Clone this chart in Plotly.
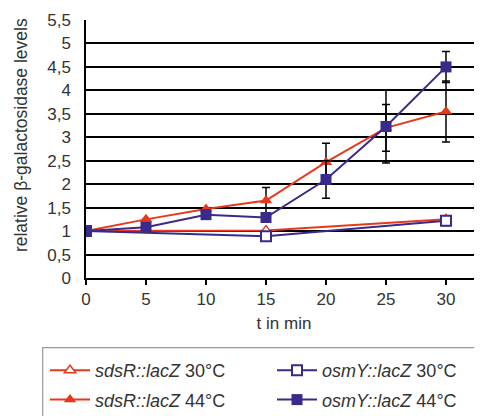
import plotly.graph_objects as go

t_min = [0, 5, 10, 15, 20, 25, 30]
t_sparse = [0, 15, 30]

sdsR_30 = [1.0, 1.01, 1.25]
osmY_30 = [1.0, 0.89, 1.22]
osmY_30_err = [0, 0, 0.1]

sdsR_44 = [1.0, 1.25, 1.47, 1.65, 2.47, 3.2, 3.55]
sdsR_44_err = [0, 0, 0, 0.28, 0.4, 0.5, 0.65]
osmY_44 = [1.0, 1.08, 1.35, 1.29, 2.1, 3.23, 4.5]
osmY_44_err = [0, 0, 0, 0.08, 0.4, 0.78, 0.33]

y_tickvals = [0, 0.5, 1, 1.5, 2, 2.5, 3, 3.5, 4, 4.5, 5, 5.5]
y_ticktext = ["0", "0,5", "1", "1,5", "2", "2,5", "3", "3,5", "4", "4,5", "5", "5,5"]
x_tickvals = [0, 5, 10, 15, 20, 25, 30]

RED = "#E8381C"
BLUE = "#3A2A8C"
FONT = "Liberation Sans, Arial, sans-serif"
TXT = "#333333"

fig = go.Figure()

err_style = dict(type="data", color="black", thickness=1.5, width=4)

fig.add_trace(go.Scatter(
    x=t_sparse, y=sdsR_30, mode="lines+markers",
    name="<i>sdsR::lacZ</i> 30°C", legend="legend", legendgroup="a",
    line=dict(color=RED, width=2),
    marker=dict(symbol="triangle-up", size=10, color="white", line=dict(color=RED, width=1.5)),
))
fig.add_trace(go.Scatter(
    x=t_min, y=sdsR_44, mode="lines+markers",
    name="<i>sdsR::lacZ</i> 44°C", legend="legend", legendgroup="b",
    line=dict(color=RED, width=2),
    marker=dict(symbol="triangle-up", size=11, color=RED),
    error_y=dict(array=sdsR_44_err, **err_style),
))
fig.add_trace(go.Scatter(
    x=t_sparse, y=osmY_30, mode="lines+markers",
    name="<i>osmY::lacZ</i> 30°C", legend="legend2", legendgroup="c",
    line=dict(color=BLUE, width=2),
    marker=dict(symbol="square", size=10, color="white", line=dict(color=BLUE, width=2)),
    error_y=dict(array=osmY_30_err, **err_style),
))
fig.add_trace(go.Scatter(
    x=t_min, y=osmY_44, mode="lines+markers",
    name="<i>osmY::lacZ</i> 44°C", legend="legend2", legendgroup="d",
    line=dict(color=BLUE, width=2),
    marker=dict(symbol="square", size=11, color=BLUE),
    error_y=dict(array=osmY_44_err, **err_style),
))

leg_common = dict(
    orientation="v", yanchor="top", xanchor="left",
    font=dict(family=FONT, size=18, color=TXT),
    bgcolor="rgba(0,0,0,0)", borderwidth=0, tracegroupgap=3, itemwidth=40,
)

fig.update_layout(
    width=474, height=408,
    margin=dict(l=78, r=0, t=12, b=138, autoexpand=False),
    paper_bgcolor="white", plot_bgcolor="white",
    font=dict(family=FONT, size=17, color=TXT),
    showlegend=True,
    legend=dict(x=-0.1035, y=-0.2868, **leg_common),
    legend2=dict(x=0.4697, y=-0.2868, **leg_common),
    shapes=[dict(
        type="rect", xref="paper", yref="paper",
        x0=-0.1093, x1=1.2, y0=-0.7, y1=-0.270,
        line=dict(color="#999999", width=1.2), fillcolor="rgba(0,0,0,0)", layer="below",
    )],
    annotations=[dict(
        text="relative β-galactosidase levels", textangle=-90,
        xref="paper", yref="paper", x=-0.1641, y=0.554,
        xanchor="center", yanchor="middle", showarrow=False,
        font=dict(family=FONT, size=17.5, color=TXT),
    )],
)

fig.update_xaxes(
    range=[0, 33], tickvals=x_tickvals, ticks="outside", ticklen=5, tickwidth=1.5,
    tickcolor="black", showline=True, linecolor="black", linewidth=1.5,
    showgrid=False, zeroline=False,
    title=dict(text="t in min", standoff=9, font=dict(size=17)),
    tickfont=dict(size=17),
)
fig.update_yaxes(
    range=[0, 5.5], tickvals=y_tickvals, ticktext=y_ticktext,
    ticks="", ticklabelstandoff=10, showline=True, linecolor="black", linewidth=1.5,
    showgrid=True, gridcolor="black", gridwidth=1.5, zeroline=False,
    tickfont=dict(size=17),
)

fig.write_html("out.html")
